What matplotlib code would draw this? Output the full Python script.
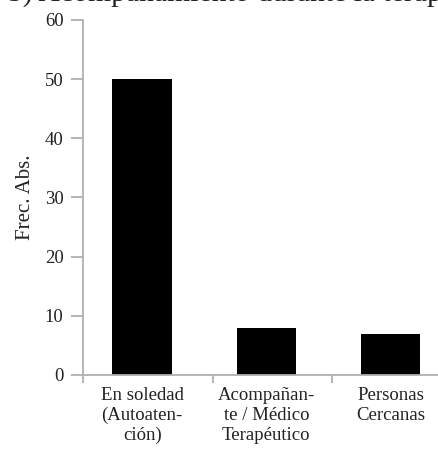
import matplotlib
matplotlib.use("Agg")
import matplotlib.pyplot as plt
from matplotlib.ticker import FixedLocator

# datos
categorias = ["En soledad\n(Autoaten-\nción)",
              "Acompañan-\nte / Médico\nTerapéutico",
              "Personas\nCercanas"]
frecuencias = [50, 8, 7]
ticks_y = [0, 10, 20, 30, 40, 50, 60]
titulo = "5) Acompañamiento durante la terapia"

plt.rcParams['font.family'] = ['Liberation Serif', 'DejaVu Serif']
gris = '#b0b0b0'
texto = '#222222'

fig = plt.figure(figsize=(4.38, 4.5), dpi=100)
ax = fig.add_axes([0.1895, 0.1667, 0.81, 0.7889])

x = list(range(len(categorias)))
ax.bar(x, frecuencias, width=0.48, color='black', zorder=2)

ax.set_xlim(-0.476, 2.38)
ax.set_ylim(0, 60)
ax.set_yticks(ticks_y)
ax.set_yticklabels([str(t) for t in ticks_y], fontsize=13.5, color=texto)

# etiquetas de categoria sin marca, separadores como ticks menores
ax.set_xticks(x)
ax.set_xticklabels(categorias, fontsize=13.5, linespacing=1.2, color=texto)
ax.tick_params(axis='x', which='major', length=0, pad=9)
ax.xaxis.set_minor_locator(FixedLocator([-0.476, 0.57, 1.53]))
ax.tick_params(axis='x', which='minor', length=6, width=1.3, color=gris)
ax.tick_params(axis='y', length=9, width=1.3, color=gris, pad=5)

for s in ['top', 'right']:
    ax.spines[s].set_visible(False)
for s in ['left', 'bottom']:
    ax.spines[s].set_color(gris)
    ax.spines[s].set_linewidth(1.3)

ax.set_ylabel("Frec. Abs.", fontsize=15, labelpad=7, color=texto)

fig.text(0.539, 1 - 1 / 450, titulo, ha='center', va='baseline',
         fontsize=21.4, color=texto)

fig.savefig("out.png", dpi=100)
